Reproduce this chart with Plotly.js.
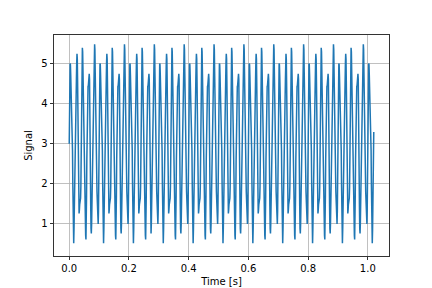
<!DOCTYPE html>
<html>
<head>
<meta charset="utf-8">
<script src="https://cdn.plot.ly/plotly-3.0.1.min.js"></script>
<style>html,body{margin:0;padding:0;background:#fff;}#chart{width:432px;height:288px;}</style>
</head>
<body>
<div id="chart"></div>
<script>
// Sample spacing of the signal (seconds) and start time
const tStart = 0;
const tStep = 0.001;

// Signal values, one per millisecond, 0 .. 1.02 s
const signal = [
3,3.96,4.68,5,4.97,4.71,4.41,4.2,4.05,3.86,3.48,2.83,2.01,1.2,0.65,0.52,0.86,1.51,2.25,2.87,3.29,3.56,3.79,4.12,4.56,5,5.24,5.12,4.56,3.68,2.71,1.89,1.4,1.26,1.34,1.48,1.55,1.57,1.64,1.93,2.52,3.38,4.3,5.04,5.39,5.29,4.84,4.23,3.68,3.28,3,2.72,2.32,1.77,1.16,0.71,0.61,0.96,1.7,2.62,3.48,4.07,4.36,4.43,4.45,4.52,4.66,4.74,4.6,4.11,3.29,2.32,1.44,0.88,0.76,1,1.44,1.88,2.21,2.45,2.71,3.13,3.75,4.49,5.14,5.48,5.35,4.8,3.99,3.17,2.52,2.14,1.95,1.8,1.59,1.29,1.04,1,1.33,2.04,
3,3.96,4.68,5,4.97,4.71,4.41,4.2,4.05,3.86,3.48,2.83,2.01,1.2,0.65,0.52,0.86,1.51,2.25,2.87,3.29,3.56,3.79,4.12,4.56,5,5.24,5.12,4.56,3.68,2.71,1.89,1.4,1.26,1.34,1.48,1.55,1.57,1.64,1.93,2.52,3.38,4.3,5.04,5.39,5.29,4.84,4.23,3.68,3.28,3,2.72,2.32,1.77,1.16,0.71,0.61,0.96,1.7,2.62,3.48,4.07,4.36,4.43,4.45,4.52,4.66,4.74,4.6,4.11,3.29,2.32,1.44,0.88,0.76,1,1.44,1.88,2.21,2.45,2.71,3.13,3.75,4.49,5.14,5.48,5.35,4.8,3.99,3.17,2.52,2.14,1.95,1.8,1.59,1.29,1.04,1,1.33,2.04,
3,3.96,4.68,5,4.97,4.71,4.41,4.2,4.05,3.86,3.48,2.83,2.01,1.2,0.65,0.52,0.86,1.51,2.25,2.87,3.29,3.56,3.79,4.12,4.56,5,5.24,5.12,4.56,3.68,2.71,1.89,1.4,1.26,1.34,1.48,1.55,1.57,1.64,1.93,2.52,3.38,4.3,5.04,5.39,5.29,4.84,4.23,3.68,3.28,3,2.72,2.32,1.77,1.16,0.71,0.61,0.96,1.7,2.62,3.48,4.07,4.36,4.43,4.45,4.52,4.66,4.74,4.6,4.11,3.29,2.32,1.44,0.88,0.76,1,1.44,1.88,2.21,2.45,2.71,3.13,3.75,4.49,5.14,5.48,5.35,4.8,3.99,3.17,2.52,2.14,1.95,1.8,1.59,1.29,1.04,1,1.33,2.04,
3,3.96,4.68,5,4.97,4.71,4.41,4.2,4.05,3.86,3.48,2.83,2.01,1.2,0.65,0.52,0.86,1.51,2.25,2.87,3.29,3.56,3.79,4.12,4.56,5,5.24,5.12,4.56,3.68,2.71,1.89,1.4,1.26,1.34,1.48,1.55,1.57,1.64,1.93,2.52,3.38,4.3,5.04,5.39,5.29,4.84,4.23,3.68,3.28,3,2.72,2.32,1.77,1.16,0.71,0.61,0.96,1.7,2.62,3.48,4.07,4.36,4.43,4.45,4.52,4.66,4.74,4.6,4.11,3.29,2.32,1.44,0.88,0.76,1,1.44,1.88,2.21,2.45,2.71,3.13,3.75,4.49,5.14,5.48,5.35,4.8,3.99,3.17,2.52,2.14,1.95,1.8,1.59,1.29,1.04,1,1.33,2.04,
3,3.96,4.68,5,4.97,4.71,4.41,4.2,4.05,3.86,3.48,2.83,2.01,1.2,0.65,0.52,0.86,1.51,2.25,2.87,3.29,3.56,3.79,4.12,4.56,5,5.24,5.12,4.56,3.68,2.71,1.89,1.4,1.26,1.34,1.48,1.55,1.57,1.64,1.93,2.52,3.38,4.3,5.04,5.39,5.29,4.84,4.23,3.68,3.28,3,2.72,2.32,1.77,1.16,0.71,0.61,0.96,1.7,2.62,3.48,4.07,4.36,4.43,4.45,4.52,4.66,4.74,4.6,4.11,3.29,2.32,1.44,0.88,0.76,1,1.44,1.88,2.21,2.45,2.71,3.13,3.75,4.49,5.14,5.48,5.35,4.8,3.99,3.17,2.52,2.14,1.95,1.8,1.59,1.29,1.04,1,1.33,2.04,
3,3.96,4.68,5,4.97,4.71,4.41,4.2,4.05,3.86,3.48,2.83,2.01,1.2,0.65,0.52,0.86,1.51,2.25,2.87,3.29,3.56,3.79,4.12,4.56,5,5.24,5.12,4.56,3.68,2.71,1.89,1.4,1.26,1.34,1.48,1.55,1.57,1.64,1.93,2.52,3.38,4.3,5.04,5.39,5.29,4.84,4.23,3.68,3.28,3,2.72,2.32,1.77,1.16,0.71,0.61,0.96,1.7,2.62,3.48,4.07,4.36,4.43,4.45,4.52,4.66,4.74,4.6,4.11,3.29,2.32,1.44,0.88,0.76,1,1.44,1.88,2.21,2.45,2.71,3.13,3.75,4.49,5.14,5.48,5.35,4.8,3.99,3.17,2.52,2.14,1.95,1.8,1.59,1.29,1.04,1,1.33,2.04,
3,3.96,4.68,5,4.97,4.71,4.41,4.2,4.05,3.86,3.48,2.83,2.01,1.2,0.65,0.52,0.86,1.51,2.25,2.87,3.29,3.56,3.79,4.12,4.56,5,5.24,5.12,4.56,3.68,2.71,1.89,1.4,1.26,1.34,1.48,1.55,1.57,1.64,1.93,2.52,3.38,4.3,5.04,5.39,5.29,4.84,4.23,3.68,3.28,3,2.72,2.32,1.77,1.16,0.71,0.61,0.96,1.7,2.62,3.48,4.07,4.36,4.43,4.45,4.52,4.66,4.74,4.6,4.11,3.29,2.32,1.44,0.88,0.76,1,1.44,1.88,2.21,2.45,2.71,3.13,3.75,4.49,5.14,5.48,5.35,4.8,3.99,3.17,2.52,2.14,1.95,1.8,1.59,1.29,1.04,1,1.33,2.04,
3,3.96,4.68,5,4.97,4.71,4.41,4.2,4.05,3.86,3.48,2.83,2.01,1.2,0.65,0.52,0.86,1.51,2.25,2.87,3.29,3.56,3.79,4.12,4.56,5,5.24,5.12,4.56,3.68,2.71,1.89,1.4,1.26,1.34,1.48,1.55,1.57,1.64,1.93,2.52,3.38,4.3,5.04,5.39,5.29,4.84,4.23,3.68,3.28,3,2.72,2.32,1.77,1.16,0.71,0.61,0.96,1.7,2.62,3.48,4.07,4.36,4.43,4.45,4.52,4.66,4.74,4.6,4.11,3.29,2.32,1.44,0.88,0.76,1,1.44,1.88,2.21,2.45,2.71,3.13,3.75,4.49,5.14,5.48,5.35,4.8,3.99,3.17,2.52,2.14,1.95,1.8,1.59,1.29,1.04,1,1.33,2.04,
3,3.96,4.68,5,4.97,4.71,4.41,4.2,4.05,3.86,3.48,2.83,2.01,1.2,0.65,0.52,0.86,1.51,2.25,2.87,3.29,3.56,3.79,4.12,4.56,5,5.24,5.12,4.56,3.68,2.71,1.89,1.4,1.26,1.34,1.48,1.55,1.57,1.64,1.93,2.52,3.38,4.3,5.04,5.39,5.29,4.84,4.23,3.68,3.28,3,2.72,2.32,1.77,1.16,0.71,0.61,0.96,1.7,2.62,3.48,4.07,4.36,4.43,4.45,4.52,4.66,4.74,4.6,4.11,3.29,2.32,1.44,0.88,0.76,1,1.44,1.88,2.21,2.45,2.71,3.13,3.75,4.49,5.14,5.48,5.35,4.8,3.99,3.17,2.52,2.14,1.95,1.8,1.59,1.29,1.04,1,1.33,2.04,
3,3.96,4.68,5,4.97,4.71,4.41,4.2,4.05,3.86,3.48,2.83,2.01,1.2,0.65,0.52,0.86,1.51,2.25,2.87,3.29,3.56,3.79,4.12,4.56,5,5.24,5.12,4.56,3.68,2.71,1.89,1.4,1.26,1.34,1.48,1.55,1.57,1.64,1.93,2.52,3.38,4.3,5.04,5.39,5.29,4.84,4.23,3.68,3.28,3,2.72,2.32,1.77,1.16,0.71,0.61,0.96,1.7,2.62,3.48,4.07,4.36,4.43,4.45,4.52,4.66,4.74,4.6,4.11,3.29,2.32,1.44,0.88,0.76,1,1.44,1.88,2.21,2.45,2.71,3.13,3.75,4.49,5.14,5.48,5.35,4.8,3.99,3.17,2.52,2.14,1.95,1.8,1.59,1.29,1.04,1,1.33,2.04,
3,3.96,4.68,5,4.97,4.71,4.41,4.2,4.05,3.86,3.48,2.83,2.01,1.2,0.65,0.52,0.86,1.51,2.25,2.87,3.29
];

const xTickVals = [0, 0.2, 0.4, 0.6, 0.8, 1.0];
const xTickText = ["0.0", "0.2", "0.4", "0.6", "0.8", "1.0"];
const yTickVals = [1, 2, 3, 4, 5];
const yTickText = ["1", "2", "3", "4", "5"];

const font = {family: "DejaVu Sans, sans-serif", size: 10, color: "#000"};

const axisCommon = {
  ticks: "outside", ticklen: 3.5, tickwidth: 0.8, tickcolor: "#000",
  showgrid: true, gridcolor: "#b0b0b0", gridwidth: 0.8,
  showline: true, mirror: true, linecolor: "#000", linewidth: 0.8,
  zeroline: false, tickfont: font, automargin: false, fixedrange: true
};

const trace = {
  type: "scatter", mode: "lines",
  x0: tStart, dx: tStep, y: signal,
  line: {color: "#1f77b4", width: 1.5},
  hoverinfo: "skip"
};

const layout = {
  width: 432, height: 288,
  margin: {l: 54, r: 43, t: 35, b: 32, pad: 0},
  paper_bgcolor: "#fff", plot_bgcolor: "#fff",
  showlegend: false, font: font,
  xaxis: Object.assign({}, axisCommon, {
    range: [-0.051, 1.071], tickvals: xTickVals, ticktext: xTickText,
    title: {text: "Time [s]", font: font, standoff: 4}
  }),
  yaxis: Object.assign({}, axisCommon, {
    range: [0.2, 5.71], tickvals: yTickVals, ticktext: yTickText,
    title: {text: "Signal", font: font, standoff: 6}
  })
};

Plotly.newPlot("chart", [trace], layout, {staticPlot: true, displayModeBar: false});
</script>
</body>
</html>
